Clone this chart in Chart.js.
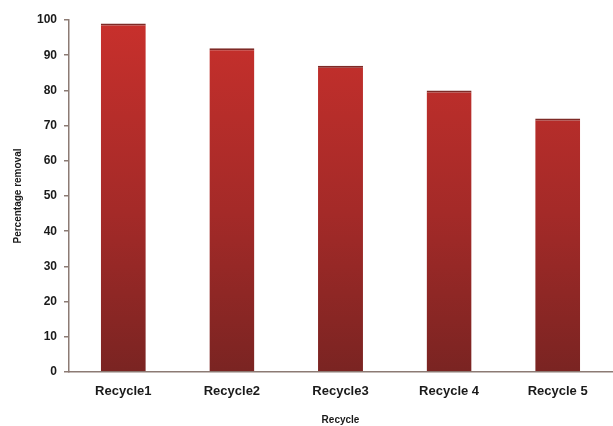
<!DOCTYPE html>
<html>
<head>
<meta charset="utf-8">
<script src="https://cdn.jsdelivr.net/npm/chart.js@4"></script>
<style>
  html, body { margin: 0; padding: 0; background: #ffffff; overflow: hidden; }
  #wrap { width: 613px; height: 426px; }
</style>
</head>
<body>
<div id="wrap"><canvas id="c" width="613" height="426"></canvas></div>
<script>
// Removal efficiency across successive reuse cycles
const categories = ['Recycle1', 'Recycle2', 'Recycle3', 'Recycle 4', 'Recycle 5'];
const removal = [99, 92, 87, 80, 72];
const yTicks = [0, 10, 20, 30, 40, 50, 60, 70, 80, 90, 100];

const FONT = '"Liberation Sans", Arial, sans-serif';

function barGradient(ctx) {
  const area = ctx.chart.chartArea;
  if (!area) return '#b02a28';
  const g = ctx.chart.ctx.createLinearGradient(0, area.bottom, 0, area.top);
  g.addColorStop(0, '#7a2422');
  g.addColorStop(0.45, '#a42a28');
  g.addColorStop(1, '#c8302c');
  return g;
}

new Chart(document.getElementById('c'), {
  type: 'bar',
  data: {
    labels: categories,
    datasets: [{
      data: removal,
      backgroundColor: barGradient,
      borderColor: '#7e2a26',
      borderWidth: { top: 2, left: 0, right: 0, bottom: 0 },
      borderSkipped: false,
      categoryPercentage: 1,
      barPercentage: 0.414
    }]
  },
  options: {
    responsive: false,
    animation: false,
    devicePixelRatio: 1,
    layout: { padding: { top: 20, right: 1, left: 0, bottom: 0 } },
    plugins: { legend: { display: false }, tooltip: { enabled: false } },
    scales: {
      x: {
        grid: { display: false, drawTicks: false },
        border: { color: '#8c7b74', width: 1.5 },
        ticks: { color: '#1a1a1a', font: { family: FONT, size: 13, weight: 'bold' }, padding: 12, maxRotation: 0 },
        title: { display: true, text: 'Recycle', color: '#1a1a1a', font: { family: FONT, size: 10, weight: 'bold' }, padding: { top: 9, bottom: 0 } },
        afterFit: (s) => { s.height = 54; }
      },
      y: {
        min: 0, max: 100,
        afterBuildTicks: (s) => { s.ticks = yTicks.map(v => ({ value: v })); },
        grid: { display: true, drawOnChartArea: false, drawTicks: true, tickLength: 5, color: '#8c7b74', lineWidth: 1.5 },
        border: { color: '#8c7b74', width: 1.5 },
        ticks: { color: '#1a1a1a', font: { family: FONT, size: 12, weight: 'bold' }, padding: 7 },
        title: { display: true, text: 'Percentage removal', color: '#1a1a1a', font: { family: FONT, size: 10, weight: 'bold' }, padding: { top: 12, bottom: 4 } },
        afterFit: (s) => { s.width = 69; }
      }
    }
  }
});
</script>
</body>
</html>
